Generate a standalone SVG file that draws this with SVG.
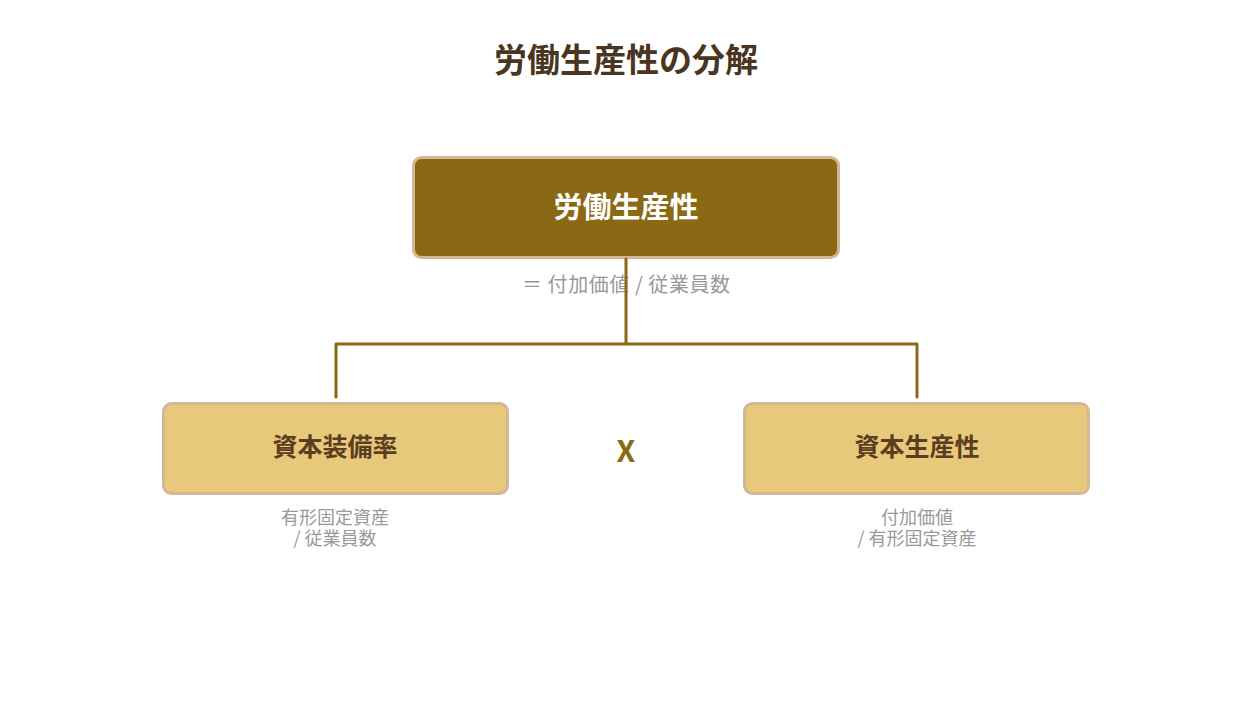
<svg xmlns="http://www.w3.org/2000/svg" width="1252" height="725" viewBox="0 0 1252 725">
<style>
text{font-family:"Noto Sans CJK JP","Noto Sans",sans-serif;text-anchor:middle;dominant-baseline:central}
.title{font-size:33px;font-weight:700;fill:#4A3520}
.main{fill:#8B6914;stroke:#D4B896;stroke-width:3}
.child{fill:#E8C87A;stroke:#D4B896;stroke-width:3}
.mt{font-size:29px;font-weight:700;fill:#FFFFFF}
.ct{font-size:25px;font-weight:700;fill:#5A3E1F}
.sub{font-size:20px;fill:#999999}
.sub2{font-size:18px;fill:#999999}
.conn{fill:none;stroke:#8B6914;stroke-width:3;stroke-linecap:round}
.op{font-size:30px;font-weight:700;fill:#8B6914}
</style>
<rect width="1252" height="725" fill="#FFFFFF"/>
<text class="title" x="626" y="58">労働生産性の分解</text>
<g id="node-main">
<rect class="main" x="413.5" y="157.5" width="425" height="100" rx="8"/>
<text class="mt" x="626" y="205">労働生産性</text>
<text class="sub" x="626" y="283" textLength="208">＝ 付加価値 / 従業員数</text>
</g>
<g id="node-left">
<rect class="child" x="163.5" y="403.5" width="344" height="90" rx="8"/>
<text class="ct" x="335" y="445">資本装備率</text>
<text class="sub2" x="335" y="516">有形固定資産</text>
<text class="sub2" x="335" y="537">/ 従業員数</text>
</g>
<g id="node-right">
<rect class="child" x="744.5" y="403.5" width="344" height="90" rx="8"/>
<text class="ct" x="917" y="445">資本生産性</text>
<text class="sub2" x="917" y="516">付加価値</text>
<text class="sub2" x="917" y="537">/ 有形固定資産</text>
</g>
<g id="operator">
<text class="op" x="626" y="449">X</text>
</g>
<g id="connectors">
<path class="conn" d="M626 259 V344 M336 344 H917 M336 344 V397 M917 344 V397"/>
</g>
</svg>
